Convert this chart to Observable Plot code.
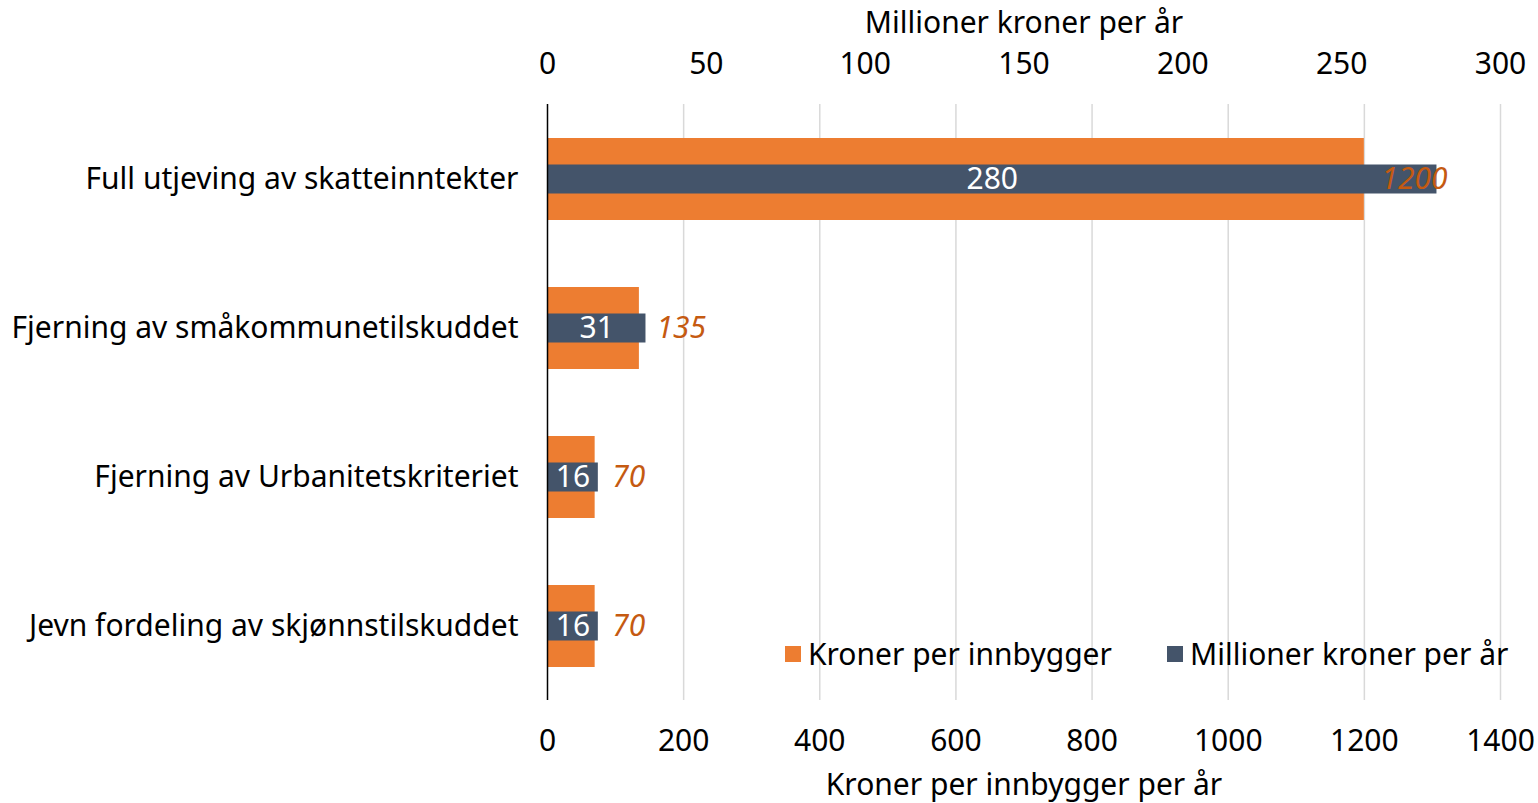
<!DOCTYPE html>
<html>
<head>
<meta charset="utf-8">
<script src="https://cdn.jsdelivr.net/npm/d3@7"></script>
<script src="https://cdn.jsdelivr.net/npm/@observablehq/plot@0.6"></script>
<style>
  html, body { margin: 0; padding: 0; background: #fff; }
  #wrap { position: relative; width: 1538px; height: 803px; font-family: "Noto Sans", sans-serif; }
  #legend .item { position: absolute; top: 636px; display: flex; align-items: center; font-size: 30px; color: #000; line-height: 36px; white-space: nowrap; }
  #legend .sw { width: 16px; height: 16px; margin-right: 7px; }
</style>
</head>
<body>
<div id="wrap">
  <div id="chart"></div>
  <div id="legend"></div>
</div>
<script>
const categories = [
  "Full utjeving av skatteinntekter",
  "Fjerning av småkommunetilskuddet",
  "Fjerning av Urbanitetskriteriet",
  "Jevn fordeling av skjønnstilskuddet"
];
const kronerPerInnbygger = [1200, 135, 70, 70];
const millionerKroner = [280, 31, 16, 16];
const bottomTicks = [0, 200, 400, 600, 800, 1000, 1200, 1400];
const topTicks = [0, 50, 100, 150, 200, 250, 300];
const seriesNames = ["Kroner per innbygger", "Millioner kroner per år"];
const colors = ["#ED7D31", "#44546A"];

const xMax = 1400, topMax = 300;
const k = xMax / topMax;

const data = categories.map((c, i) => ({
  cat: c,
  kr: kronerPerInnbygger[i],
  mill: millionerKroner[i],
  millX: millionerKroner[i] * k
}));

const FS = 30;
const chart = Plot.plot({
  width: 1538,
  height: 803,
  marginLeft: 547,
  marginRight: 38,
  marginTop: 104,
  marginBottom: 103,
  style: { fontFamily: "Noto Sans, sans-serif", fontSize: FS + "px", color: "#000", background: "#fff" },
  x: { domain: [0, xMax] },
  y: { domain: categories, padding: 0.45, paddingOuter: 0.225 },
  marks: [
    Plot.gridX(bottomTicks.slice(1), { stroke: "#D9D9D9", strokeOpacity: 1, strokeWidth: 1.5 }),
    Plot.axisX(bottomTicks, { anchor: "bottom", tickSize: 0, tickPadding: 29, fontSize: FS,
      tickFormat: d => String(d),
      label: "Kroner per innbygger per år", labelAnchor: "center", labelOffset: 94, labelArrow: "none" }),
    Plot.axisX(topTicks.map(v => v * k), { anchor: "top", tickSize: 0, tickPadding: 31, fontSize: FS,
      tickFormat: d => String(Math.round(d / k)),
      label: "Millioner kroner per år", labelAnchor: "center", labelOffset: 93, labelArrow: "none" }),
    Plot.axisY({ tickSize: 0, tickPadding: 29, fontSize: FS, label: null }),
    Plot.barX(data, { y: "cat", x: "kr", fill: colors[0] }),
    Plot.barX(data, { y: "cat", x: "millX", fill: colors[1], insetTop: 26.5, insetBottom: 26.5 }),
    Plot.ruleX([0], { stroke: "#000", strokeWidth: 1.5 }),
    Plot.text(data, { y: "cat", x: d => d.millX / 2, text: d => String(d.mill), fill: "#fff", fontSize: FS }),
    Plot.text(data, { y: "cat", x: "kr", text: d => String(d.kr), fill: "#C55A11", fontSize: FS,
      fontStyle: "italic", textAnchor: "start", dx: 17 })
  ]
});
document.getElementById("chart").appendChild(chart);

const legend = document.getElementById("legend");
const legendLeft = [785, 1167];
seriesNames.forEach((name, i) => {
  const item = document.createElement("div");
  item.className = "item";
  item.style.left = legendLeft[i] + "px";
  const sw = document.createElement("div");
  sw.className = "sw";
  sw.style.background = colors[i];
  const t = document.createElement("span");
  t.textContent = name;
  item.appendChild(sw);
  item.appendChild(t);
  legend.appendChild(item);
});
</script>
</body>
</html>
